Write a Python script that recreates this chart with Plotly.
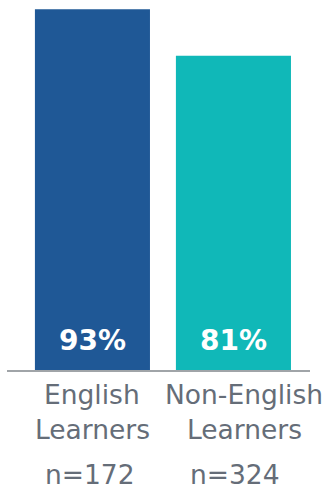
import plotly.graph_objects as go

# Share of students, by group
categories = ["English Learners", "Non-English Learners"]
label_lines = [["English", "Learners"], ["Non-English", "Learners"]]
sample_sizes = ["n=172", "n=324"]
values = [93, 81]
colors = ["#1f5896", "#10b8b8"]

# Horizontal nudges (px) for the name and sample-size labels of each group
name_shift = [0, 11]
size_shift = [-2, 2]

W, H = 331, 493
plot_bottom = 370.5  # pixel row of the baseline
m_b = H - plot_bottom

fig = go.Figure(
    go.Bar(
        x=[0, 1],
        y=values,
        width=0.816,
        marker=dict(color=colors, line=dict(width=0)),
        hoverinfo="skip",
    )
)

# Value labels near the bottom of each bar
for i, v in enumerate(values):
    fig.add_annotation(
        x=i, y=0, xref="x", yref="y",
        text=f"<b>{v}%</b>", showarrow=False,
        yanchor="bottom", yshift=11,
        font=dict(family="DejaVu Sans", size=28, color="white"),
    )

text_color = "#656d78"
label_font = dict(family="DejaVu Sans", size=26.5, color=text_color)

def paper_y(px):
    return (plot_bottom - px) / plot_bottom

# Category names (two lines) and sample sizes below the axis
for i, lines in enumerate(label_lines):
    for j, line in enumerate(lines):
        fig.add_annotation(
            x=i, y=paper_y(395 + 35 * j), xref="x", yref="paper",
            text=line, showarrow=False, yanchor="middle",
            xshift=name_shift[i], font=label_font,
        )
    fig.add_annotation(
        x=i, y=paper_y(492.5), xref="x", yref="paper",
        text=sample_sizes[i], showarrow=False, yanchor="bottom",
        xshift=size_shift[i], font=label_font,
    )

fig.update_layout(
    width=W, height=H,
    margin=dict(l=7, r=21, t=0, b=m_b, pad=0),
    paper_bgcolor="white", plot_bgcolor="white",
    showlegend=False,
    xaxis=dict(
        range=[-0.606, 1.543], showticklabels=False, showgrid=False,
        zeroline=False, showline=True, linecolor="#a0a4a8", linewidth=1.5,
        ticks="", fixedrange=True,
    ),
    yaxis=dict(
        range=[0, 95.4], visible=False, showgrid=False, zeroline=False,
        fixedrange=True,
    ),
)

fig.write_html("out.html", config={"displayModeBar": False})
